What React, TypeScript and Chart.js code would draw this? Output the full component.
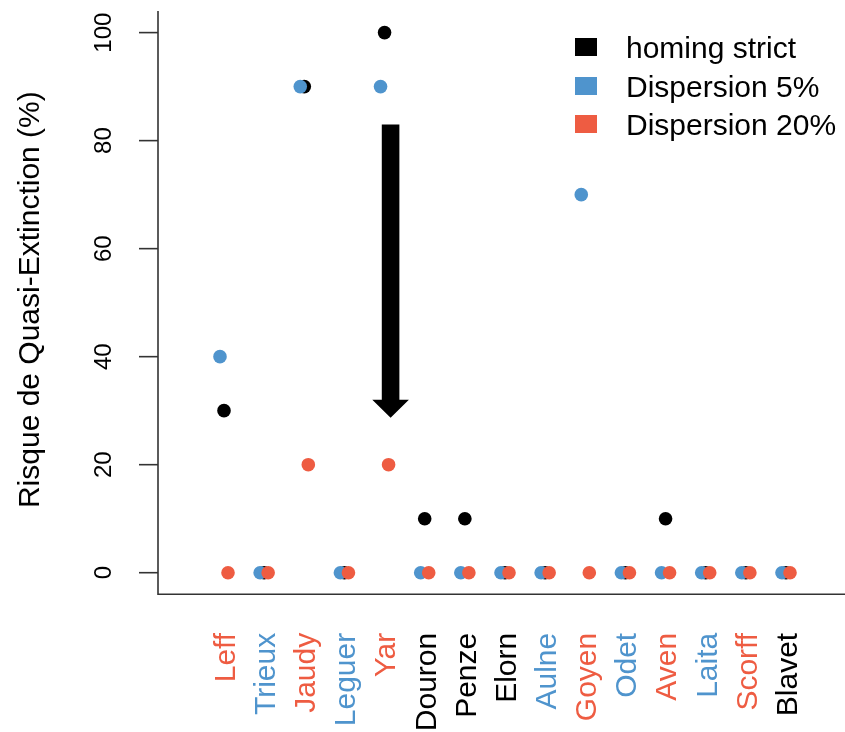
import React, { useEffect, useRef } from "react";
import { Chart, registerables } from "chart.js";

Chart.register(...registerables);

// Rivers along the x axis, with the colour of each name
const rivers = [
  "Leff", "Trieux", "Jaudy", "Leguer", "Yar", "Douron", "Penze", "Elorn",
  "Aulne", "Goyen", "Odet", "Aven", "Laita", "Scorff", "Blavet",
];
const riverColorKeys = [
  "red", "blue", "red", "blue", "red", "black", "black", "black",
  "blue", "red", "blue", "red", "blue", "red", "black",
];

// Quasi-extinction risk (%) per scenario
const homingStrict: (number | null)[] = [30, 0, 90, 0, 100, 10, 10, 0, 0, null, 0, 10, 0, 0, 0];
const dispersion5: (number | null)[] = [40, 0, 90, 0, 90, 0, 0, 0, 0, 70, 0, 0, 0, 0, 0];
const dispersion20: (number | null)[] = [0, 0, 20, 0, 20, 0, 0, 0, 0, 0, 0, 0, 0, 0, 0];

const seriesNames = ["homing strict", "Dispersion 5%", "Dispersion 20%"];
const yTicks = [0, 20, 40, 60, 80, 100];
const yTitle = "Risque de Quasi-Extinction (%)";

// Arrow showing the drop for the Yar
const arrowX = 5.15;
const arrowFrom = 83;
const arrowTo = 28.7;

const COLORS: Record<string, string> = {
  black: "#000000",
  blue: "#4F94CD",
  red: "#EE5C42",
};

const FONT = '"Liberation Sans", Arial, Helvetica, sans-serif';

const toPoints = (vals: (number | null)[], shift: number) =>
  vals
    .map((v, i) => (v === null ? null : { x: i + 1 + shift, y: v }))
    .filter((p) => p !== null) as { x: number; y: number }[];

const decorations = {
  id: "baseGraphics",
  beforeDatasetsDraw(chart: any) {
    const { ctx, chartArea } = chart;
    const xs = chart.scales.x;
    const ys = chart.scales.y;
    ctx.save();
    ctx.strokeStyle = "#333";
    ctx.lineWidth = 1.6;
    // L-shaped frame
    ctx.beginPath();
    ctx.moveTo(chartArea.left, chartArea.top);
    ctx.lineTo(chartArea.left, chartArea.bottom);
    ctx.lineTo(chart.width, chartArea.bottom);
    ctx.stroke();

    // y ticks and labels
    ctx.fillStyle = "#000";
    ctx.font = `24px ${FONT}`;
    for (const t of yTicks) {
      const py = ys.getPixelForValue(t);
      ctx.beginPath();
      ctx.moveTo(chartArea.left - 19, py);
      ctx.lineTo(chartArea.left, py);
      ctx.stroke();
      ctx.save();
      ctx.translate(111, py);
      ctx.rotate(-Math.PI / 2);
      ctx.textAlign = "center";
      ctx.textBaseline = "alphabetic";
      ctx.fillText(String(t), 0, 0);
      ctx.restore();
    }

    // y title
    ctx.save();
    ctx.font = `30px ${FONT}`;
    ctx.translate(39, (chartArea.top + chartArea.bottom) / 2 - 3);
    ctx.rotate(-Math.PI / 2);
    ctx.textAlign = "center";
    ctx.fillText(yTitle, 0, 0);
    ctx.restore();

    // river names
    ctx.font = `30px ${FONT}`;
    rivers.forEach((name, i) => {
      const px = xs.getPixelForValue(i + 1);
      ctx.save();
      ctx.fillStyle = COLORS[riverColorKeys[i]];
      ctx.translate(px + 10.8, chartArea.bottom + 38.5);
      ctx.rotate(-Math.PI / 2);
      ctx.textAlign = "right";
      ctx.textBaseline = "alphabetic";
      ctx.fillText(name, 0, 0);
      ctx.restore();
    });

    // legend
    const legendColors = [COLORS.black, COLORS.blue, COLORS.red];
    const rowsY = [47, 86, 124];
    ctx.font = `30px ${FONT}`;
    seriesNames.forEach((label, i) => {
      ctx.fillStyle = legendColors[i];
      ctx.fillRect(575, rowsY[i] - 9, 22, 18);
      ctx.fillStyle = "#000";
      ctx.textAlign = "left";
      ctx.textBaseline = "alphabetic";
      ctx.fillText(label, 626, rowsY[i] + 11);
    });
    ctx.restore();
  },
  afterDatasetsDraw(chart: any) {
    const { ctx } = chart;
    const xs = chart.scales.x;
    const ys = chart.scales.y;
    const cx = xs.getPixelForValue(arrowX);
    const top = ys.getPixelForValue(arrowFrom);
    const tip = ys.getPixelForValue(arrowTo);
    const headLen = 18;
    const shaftHalf = 8.8;
    const headHalf = 18.3;
    ctx.save();
    ctx.fillStyle = "#000";
    ctx.beginPath();
    ctx.moveTo(cx - shaftHalf, top);
    ctx.lineTo(cx + shaftHalf, top);
    ctx.lineTo(cx + shaftHalf, tip - headLen);
    ctx.lineTo(cx + headHalf, tip - headLen);
    ctx.lineTo(cx, tip);
    ctx.lineTo(cx - headHalf, tip - headLen);
    ctx.lineTo(cx - shaftHalf, tip - headLen);
    ctx.closePath();
    ctx.fill();
    ctx.restore();
  },
};

export default function App() {
  const canvasRef = useRef<HTMLCanvasElement | null>(null);

  useEffect(() => {
    const canvas = canvasRef.current;
    if (!canvas) return;
    const chart = new Chart(canvas, {
      type: "scatter",
      data: {
        datasets: [
          {
            label: seriesNames[0],
            data: toPoints(homingStrict, 0),
            backgroundColor: COLORS.black,
            borderWidth: 0,
            pointRadius: 6.8,
            order: 3,
          },
          {
            label: seriesNames[1],
            data: toPoints(dispersion5, -0.1),
            backgroundColor: COLORS.blue,
            borderWidth: 0,
            pointRadius: 6.8,
            order: 2,
          },
          {
            label: seriesNames[2],
            data: toPoints(dispersion20, 0.1),
            backgroundColor: COLORS.red,
            borderWidth: 0,
            pointRadius: 6.8,
            order: 1,
          },
        ],
      },
      options: {
        animation: false,
        responsive: false,
        devicePixelRatio: 1,
        layout: {
          autoPadding: false,
          padding: { left: 158, top: 11, right: 0, bottom: 137.7 },
        },
        plugins: {
          legend: { display: false },
          tooltip: { enabled: false },
        },
        scales: {
          x: { type: "linear", min: -0.644, max: 16.47, display: false },
          y: { type: "linear", min: -4, max: 104, display: false },
        },
      },
      plugins: [decorations],
    });
    return () => chart.destroy();
  }, []);

  return (
    <div style={{ position: "fixed", left: 0, top: 0, width: 845, height: 732, background: "#fff" }}>
      <canvas ref={canvasRef} width={845} height={732} style={{ width: 845, height: 732 }} />
    </div>
  );
}
